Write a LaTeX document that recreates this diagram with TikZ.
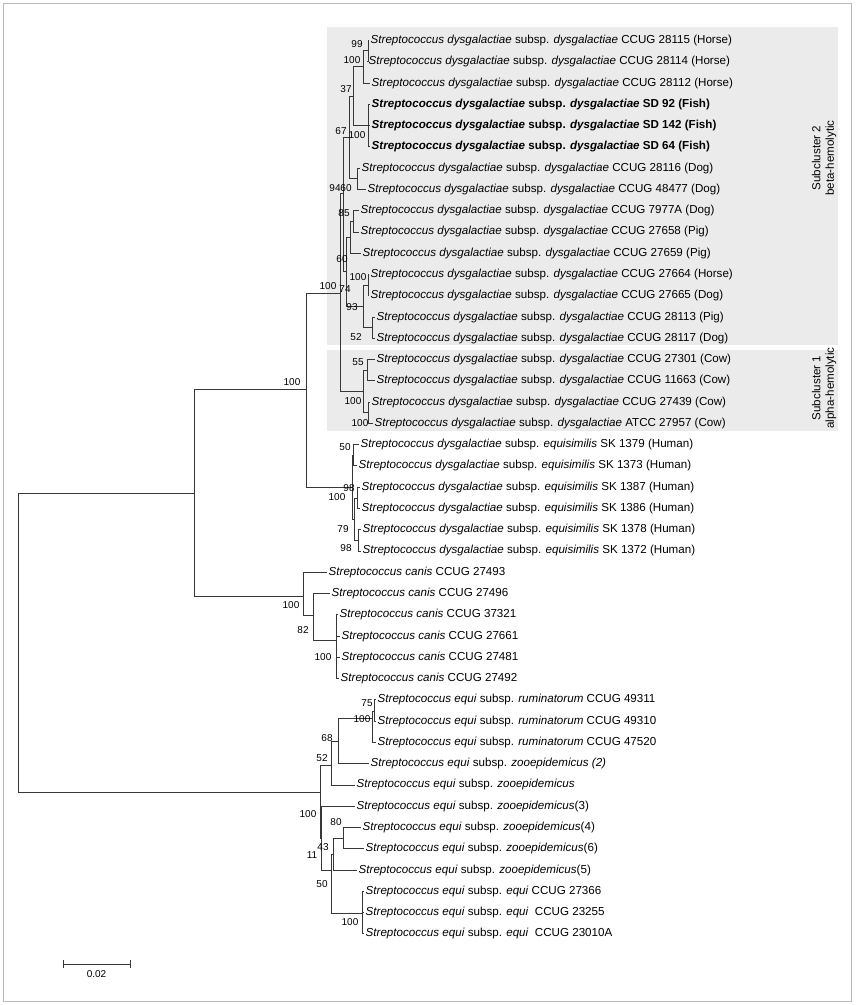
\documentclass[tikz,border=0pt]{standalone}
\usepackage{fontspec}
\setmainfont{Liberation Sans}
\usetikzlibrary{calc}
\newcommand{\Sdys}{\textit{Streptococcus dysgalactiae} subsp. \textit{dysgalactiae}}
\newcommand{\Seqs}{\textit{Streptococcus dysgalactiae} subsp. \textit{equisimilis}}
\newcommand{\Scan}{\textit{Streptococcus canis}}
\newcommand{\Sequi}{\textit{Streptococcus equi} subsp.}
\definecolor{boxgray}{RGB}{235,235,235}
\definecolor{framegray}{RGB}{185,185,185}
\definecolor{treeline}{RGB}{55,55,55}

\begin{document}
\begin{tikzpicture}[x=1pt, y=-1pt,
  branch/.style={treeline, line width=0.85pt},
  leaf/.style={anchor=west, inner sep=1.5pt, text height=8.5pt, text depth=2.5pt, font=\fontsize{11.6}{13}\selectfont},
  boot/.style={inner sep=0pt, font=\fontsize{10}{12}\selectfont},
  cluster/.style={rotate=90, align=center, font=\fontsize{11.6}{13.5}\selectfont}]
\useasboundingbox (0,0) rectangle (856,1005);
\draw[framegray] (3.5,3.5) rectangle (851.5,1001);
\fill[boxgray] (327,27) rectangle (838,345);
\fill[boxgray] (327,350) rectangle (838,431);
\node[cluster] (sc2) at (824,158) {Subcluster 2\\beta-hemolytic};
\node[cluster] (sc1) at (824,388) {Subcluster 1\\alpha-hemolytic};

\coordinate (nRoot) at (18,642);
\coordinate (nUp) at (194,493);
\coordinate (nDys) at (306,389);
\coordinate (nSub) at (340,293);
\coordinate (nS2) at (343,193);
\coordinate (n67) at (349,137);
\coordinate (n37) at (353,96);
\coordinate (n100a) at (363,66.6);
\coordinate (n99) at (368,50.6);
\coordinate (nSD) at (368,125);
\coordinate (nDog) at (357,178);
\coordinate (n74) at (346,271);
\coordinate (n60) at (350,237);
\coordinate (n85) at (353,221);
\coordinate (n93) at (363,306);
\coordinate (n100d) at (368,285);
\coordinate (n52) at (372,327.5);
\coordinate (nS1) at (363,391);
\coordinate (n55) at (367,370);
\coordinate (n100c) at (368,412.5);
\coordinate (nEqs) at (352,487);
\coordinate (n50) at (353,455);
\coordinate (n79) at (354,519);
\coordinate (n98a) at (357,498);
\coordinate (n98b) at (358,540);
\coordinate (nCanis) at (303,596);
\coordinate (n82) at (313,615);
\coordinate (n100e) at (336,640);
\coordinate (nEqui) at (320,792);
\coordinate (n52e) at (331,765);
\coordinate (n68) at (338,741);
\coordinate (n100f) at (372,718);
\coordinate (n75) at (374,711);
\coordinate (n11) at (321,838);
\coordinate (n50e) at (331,870);
\coordinate (n43) at (333,854);
\coordinate (n80) at (343,838.5);
\coordinate (n100g) at (362,913);

\foreach \n/\x/\t in {
 1/369/{\Sdys{} CCUG 28115 (Horse)},
 2/367/{\Sdys{} CCUG 28114 (Horse)},
 3/370/{\Sdys{} CCUG 28112 (Horse)},
 4/370/{\textbf{\Sdys{} SD 92 (Fish)}},
 5/370/{\textbf{\Sdys{} SD 142 (Fish)}},
 6/370/{\textbf{\Sdys{} SD 64 (Fish)}},
 7/360/{\Sdys{} CCUG 28116 (Dog)},
 8/366/{\Sdys{} CCUG 48477 (Dog)},
 9/359/{\Sdys{} CCUG 7977A (Dog)},
 10/359/{\Sdys{} CCUG 27658 (Pig)},
 11/361/{\Sdys{} CCUG 27659 (Pig)},
 12/369/{\Sdys{} CCUG 27664 (Horse)},
 13/369/{\Sdys{} CCUG 27665 (Dog)},
 14/375/{\Sdys{} CCUG 28113 (Pig)},
 15/375/{\Sdys{} CCUG 28117 (Dog)},
 16/375/{\Sdys{} CCUG 27301 (Cow)},
 17/375/{\Sdys{} CCUG 11663 (Cow)},
 18/370/{\Sdys{} CCUG 27439 (Cow)},
 19/373/{\Sdys{} ATCC 27957 (Cow)},
 20/359/{\Seqs{} SK 1379 (Human)},
 21/357/{\Seqs{} SK 1373 (Human)},
 22/360/{\Seqs{} SK 1387 (Human)},
 23/360/{\Seqs{} SK 1386 (Human)},
 24/361/{\Seqs{} SK 1378 (Human)},
 25/361/{\Seqs{} SK 1372 (Human)},
 26/327/{\Scan{} CCUG 27493},
 27/330/{\Scan{} CCUG 27496},
 28/338/{\Scan{} CCUG 37321},
 29/340/{\Scan{} CCUG 27661},
 30/340/{\Scan{} CCUG 27481},
 31/339/{\Scan{} CCUG 27492},
 32/376/{\Sequi{} \textit{ruminatorum} CCUG 49311},
 33/376/{\Sequi{} \textit{ruminatorum} CCUG 49310},
 34/376/{\Sequi{} \textit{ruminatorum} CCUG 47520},
 35/369/{\Sequi{} \textit{zooepidemicus (2)}},
 36/355/{\Sequi{} \textit{zooepidemicus}},
 37/355/{\Sequi{} \textit{zooepidemicus}(3)},
 38/361/{\Sequi{} \textit{zooepidemicus}(4)},
 39/364/{\Sequi{} \textit{zooepidemicus}(6)},
 40/357/{\Sequi{} \textit{zooepidemicus}(5)},
 41/364/{\Sequi{} \textit{equi} CCUG 27366},
 42/364/{\Sequi{} \textit{equi}\ \ CCUG 23255},
 43/364/{\Sequi{} \textit{equi}\ \ CCUG 23010A}}
 \node[leaf] (l\n) at (\x,{40.5+(\n-1)*21.27}) {\t};

\foreach \p/\c in {nRoot/nUp, nRoot/nEqui, nUp/nDys, nUp/nCanis, nDys/nSub, nDys/nEqs,
  nSub/nS2, nSub/nS1, nS2/n67, nS2/n74, n67/n37, n67/nDog, n37/n100a, n37/nSD, n100a/n99,
  n74/n60, n74/n93, n60/n85, n93/n100d, n93/n52, nS1/n55, nS1/n100c,
  nEqs/n50, nEqs/n79, n79/n98a, n79/n98b, nCanis/n82, n82/n100e,
  nEqui/n52e, nEqui/n11, n52e/n68, n68/n100f, n100f/n75, n11/n50e, n50e/n43, n50e/n100g, n43/n80}
 \draw[branch] (\p) |- (\c);

\foreach \p/\n in {n99/1, n99/2, n100a/3, nSD/4, nSD/5, nSD/6, nDog/7, nDog/8, n85/9, n85/10,
  n60/11, n100d/12, n100d/13, n52/14, n52/15, n55/16, n55/17, n100c/18, n100c/19,
  n50/20, n50/21, n98a/22, n98a/23, n98b/24, n98b/25, nCanis/26, n82/27,
  n100e/28, n100e/29, n100e/30, n100e/31, n75/32, n75/33, n100f/34, n68/35, n52e/36,
  n11/37, n80/38, n80/39, n43/40, n100g/41, n100g/42, n100g/43}
 \draw[branch] (\p) |- (l\n.west);

\foreach \x/\y/\v [count=\k] in {357/44/99, 352/60/100, 346/89/37, 341/131/67, 357/135/100,
  335/188/94, 346/188/60, 344/213/85, 342/259/60, 358/277/100, 328/286/100, 345/289/74,
  352/307/93, 356/337/52, 358/362/55, 353/401/100, 360/423/100, 292/382/100,
  345/447/50, 349/488/98, 337/497/100, 343/529/79, 346/548/98,
  291/605/100, 303/630/82, 323/657/100, 367/703/75, 362/719/100, 327/738/68, 322/758/52,
  308/814/100, 336/822/80, 323/847/43, 312/855/11, 322/884/50, 350/922/100}
 \node[boot] (b\k) at (\x,\y) {\v};

\coordinate (s0) at (63,964);
\coordinate (s1) at (130,964);
\draw[branch] (s0) -- (s1);
\draw[branch] (s0) ++(0,-4) -- ++(0,8);
\draw[branch] (s1) ++(0,-4) -- ++(0,8);
\node[boot, below=6pt] (scale) at ($(s0)!0.5!(s1)$) {0.02};
\end{tikzpicture}
\end{document}
